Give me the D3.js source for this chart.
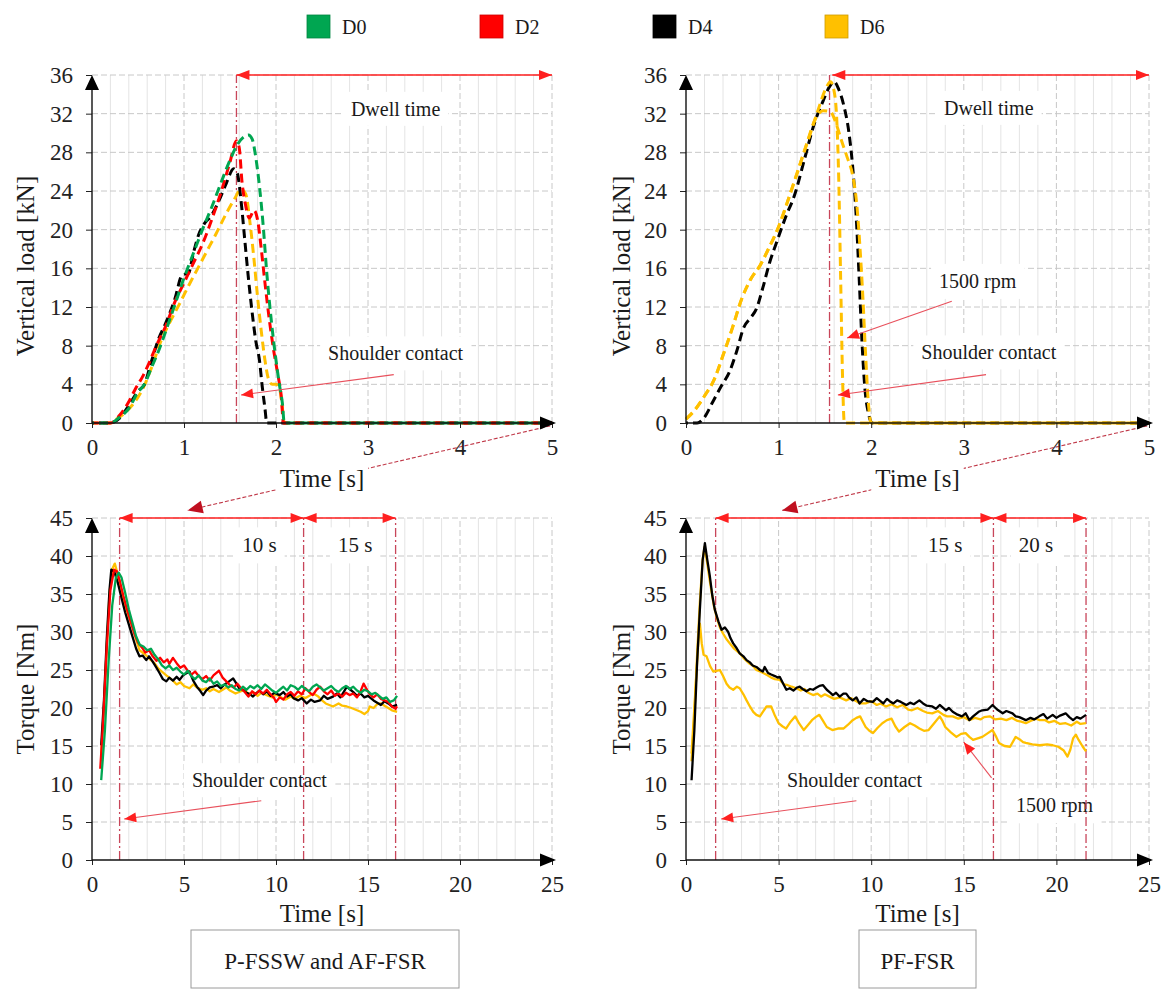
<!DOCTYPE html>
<html>
<head>
<meta charset="utf-8">
<script src="https://cdn.jsdelivr.net/npm/d3@7"></script>
<style>
body{margin:0;background:#fff;}
</style>
</head>
<body>
<script>
// vertical load vs time, [t, kN]
const loadD0=[[0,0],[0.2,0],[0.3,0.6],[0.4,1.5],[0.5,3.2],[0.57,4],[0.65,5.8],[0.73,7.6],[0.82,10],[0.9,12.2],[1.0,15],[1.1,17.5],[1.2,20],[1.3,22.3],[1.4,24.8],[1.5,27.2],[1.58,28.8],[1.65,29.6],[1.7,29.8],[1.74,29.4],[1.78,27.5],[1.82,24.5],[1.86,20.5],[1.9,15.5],[1.95,10.5],[2.0,6.5],[2.04,3.8],[2.07,2],[2.09,0],[5,0]];
const loadD2=[[0,0],[0.2,0],[0.3,0.8],[0.4,2.2],[0.47,3.5],[0.55,4.8],[0.62,6.2],[0.7,8],[0.8,10],[0.9,12.5],[1.0,14.5],[1.1,16.5],[1.2,18.5],[1.3,21],[1.4,23.8],[1.5,27],[1.57,29.2],[1.6,28.5],[1.63,25],[1.67,22.5],[1.71,21.2],[1.76,22],[1.8,21],[1.84,18],[1.88,14.5],[1.93,10.5],[1.98,7.2],[2.02,5],[2.06,2.5],[2.08,0],[5,0]];
const loadD4=[[0,0],[0.2,0],[0.3,0.5],[0.4,1.8],[0.5,3.3],[0.57,4],[0.65,6.5],[0.72,8.6],[0.8,10.3],[0.9,12.8],[0.98,15.3],[1.05,15.5],[1.1,17.5],[1.16,19.5],[1.22,20.6],[1.3,21.5],[1.38,23],[1.46,24.8],[1.54,26.3],[1.58,25.8],[1.62,23],[1.66,19],[1.7,15],[1.74,11.5],[1.78,8.5],[1.82,6.5],[1.85,3.8],[1.88,1.5],[1.9,0],[5,0]];
const loadD6=[[0,0],[0.2,0],[0.25,0.3],[0.35,1],[0.45,2],[0.55,3.5],[0.65,5.8],[0.75,8.5],[0.85,10.5],[0.95,12.3],[1.05,14.2],[1.15,16],[1.25,17.8],[1.35,19.6],[1.45,21.5],[1.55,23.2],[1.62,24.2],[1.67,23.7],[1.72,20.5],[1.76,17],[1.8,13],[1.84,9.5],[1.88,6.5],[1.92,4.5],[1.96,4],[2.0,4],[2.04,3.5],[2.07,1.5],[2.09,0],[5,0]];
const loadPfD4=[[0,0],[0.12,0],[0.2,0.6],[0.29,2.2],[0.38,3.8],[0.47,5.3],[0.55,7.5],[0.62,9.8],[0.7,10.9],[0.76,11.8],[0.83,14],[0.9,16.5],[0.99,19],[1.08,21.4],[1.17,23.5],[1.28,27.3],[1.38,30.8],[1.48,33.3],[1.55,34.8],[1.6,35.3],[1.65,34.5],[1.7,33],[1.76,30],[1.8,26.5],[1.84,21],[1.87,15],[1.9,8.5],[1.93,3.8],[1.97,1],[2.01,0],[5,0]];
const loadPfD6=[[0,0.4],[0.1,1.4],[0.2,2.8],[0.3,4.4],[0.4,7.0],[0.5,9.8],[0.6,12.8],[0.7,14.9],[0.8,16.3],[0.9,18.2],[1.0,20.3],[1.1,23],[1.2,25.8],[1.3,28.8],[1.4,31.5],[1.48,32.3],[1.56,32.2],[1.62,31],[1.68,29.2],[1.74,27.5],[1.8,25.6],[1.84,23],[1.88,18],[1.91,13],[1.94,7],[1.97,2],[2.0,0],[5,0]];
const loadPfD6rpm=[[0,0.4],[0.1,1.4],[0.2,2.8],[0.3,4.4],[0.4,7.0],[0.5,9.8],[0.6,12.8],[0.7,14.9],[0.8,16.3],[0.9,18.2],[1.0,20.3],[1.1,23],[1.2,25.9],[1.31,29],[1.42,32.2],[1.51,34.6],[1.56,35.3],[1.6,34.3],[1.63,31],[1.65,25],[1.67,15],[1.69,5],[1.71,0],[5,0]];

// torque vs time, [t, Nm]
const torqueD0=[[0.5,10.5],[0.7,17],[0.9,26],[1.1,33.5],[1.3,37.2],[1.45,37.8],[1.6,37.2],[1.8,35.2],[2.0,33.0],[2.2,31.2],[2.4,29.4],[2.6,28.3],[2.8,28.1],[3.0,27.6],[3.2,27.8],[3.4,27.0],[3.6,26.4],[3.8,25.6],[4.0,25.2],[4.2,25.6],[4.4,25.0],[4.6,25.3],[4.8,24.8],[5.0,24.4],[5.2,24.9],[5.4,24.2],[5.6,23.8],[5.8,24.3],[6.0,23.6],[6.2,23.4],[6.4,23.9],[6.6,23.2],[6.8,23.5],[7.0,22.9],[7.2,23.1],[7.4,22.7],[7.6,23.0],[7.8,22.5],[8.0,22.3],[8.2,22.8],[8.4,22.4],[8.6,22.9],[8.8,22.6],[9.0,23.0],[9.2,22.5],[9.4,23.1],[9.6,22.7],[9.8,22.3],[10.0,22.0],[10.2,22.4],[10.4,22.8],[10.6,22.3],[10.8,23.0],[11.0,22.8],[11.2,22.4],[11.4,22.9],[11.6,22.5],[11.8,22.2],[12.0,22.8],[12.2,23.1],[12.4,22.7],[12.6,22.3],[12.8,22.6],[13.0,22.9],[13.2,22.4],[13.4,22.1],[13.6,22.6],[13.8,22.9],[14.0,22.5],[14.2,22.8],[14.4,22.3],[14.6,22.0],[14.8,22.4],[15.0,22.2],[15.2,21.8],[15.4,22.0],[15.6,21.6],[15.8,21.2],[16.0,21.4],[16.2,20.8],[16.4,21.0],[16.58,21.6]];
const torqueD2=[[0.45,12],[0.6,18],[0.8,28],[1.0,35.5],[1.2,38.2],[1.35,38.0],[1.5,36.8],[1.7,34.8],[1.9,33.0],[2.1,31.4],[2.3,29.8],[2.5,28.6],[2.7,28.0],[2.9,27.3],[3.1,27.6],[3.3,26.8],[3.5,26.2],[3.7,26.6],[3.9,26.0],[4.1,26.4],[4.2,25.8],[4.4,26.6],[4.6,25.9],[4.8,25.3],[5.0,25.6],[5.2,24.9],[5.4,24.4],[5.6,24.8],[5.8,24.2],[6.0,23.8],[6.2,24.2],[6.4,23.6],[6.6,24.3],[6.9,24.9],[7.1,24.0],[7.3,23.5],[7.5,23.0],[7.7,22.7],[7.9,23.2],[8.1,22.6],[8.3,22.1],[8.5,21.5],[8.7,22.2],[8.9,21.8],[9.1,22.3],[9.3,21.9],[9.5,22.4],[9.7,21.8],[9.9,21.3],[10.0,20.8],[10.2,21.4],[10.4,21.1],[10.6,21.8],[10.8,22.1],[11.0,21.6],[11.2,22.2],[11.4,21.8],[11.6,22.6],[11.8,22.1],[12.0,21.7],[12.2,22.4],[12.4,22.8],[12.6,22.2],[12.8,21.8],[13.0,22.3],[13.2,21.6],[13.4,21.9],[13.6,21.5],[13.8,22.0],[14.0,21.7],[14.2,21.9],[14.4,21.4],[14.6,22.2],[14.76,23.2],[14.9,22.6],[15.1,21.8],[15.3,21.4],[15.5,21.8],[15.7,21.2],[15.9,21.0],[16.1,20.8],[16.3,20.2],[16.5,19.9],[16.58,20.2]];
const torqueD4=[[0.5,15.1],[0.65,21],[0.8,29],[0.95,35.5],[1.05,38.2],[1.2,38.0],[1.4,36.5],[1.6,34.5],[1.8,32.6],[2.0,31.0],[2.2,29.4],[2.4,27.8],[2.58,26.8],[2.75,26.9],[2.95,26.3],[3.1,26.8],[3.3,26.1],[3.5,25.3],[3.67,24.6],[3.85,23.8],[4.04,23.5],[4.2,24.0],[4.4,23.6],[4.6,24.1],[4.76,23.7],[4.95,24.3],[5.15,24.6],[5.3,24.8],[5.5,23.6],[5.7,22.8],[5.9,22.2],[6.04,21.7],[6.2,22.3],[6.4,22.7],[6.58,22.8],[6.8,23.0],[7.0,22.6],[7.2,23.1],[7.4,23.4],[7.67,23.9],[7.85,23.2],[8.0,22.6],[8.2,22.4],[8.4,22.0],[8.6,21.8],[8.75,21.5],[8.9,21.9],[9.1,22.3],[9.3,21.8],[9.5,22.2],[9.7,21.6],[9.9,22.0],[10.2,21.7],[10.4,22.1],[10.6,21.5],[10.8,21.8],[10.95,21.3],[11.2,21.0],[11.4,21.3],[11.67,20.6],[11.9,21.1],[12.1,20.8],[12.4,21.0],[12.6,21.6],[12.8,21.2],[13.1,21.5],[13.3,21.9],[13.5,21.4],[13.7,22.2],[13.85,22.8],[14.0,22.5],[14.2,22.1],[14.4,21.6],[14.6,21.9],[14.8,21.4],[15.0,21.6],[15.3,21.0],[15.5,20.7],[15.7,20.4],[15.9,20.9],[16.1,20.6],[16.3,20.2],[16.58,20.4]];
const torqueD6=[[0.5,14],[0.65,20],[0.8,28],[0.95,35],[1.1,38.3],[1.24,39.0],[1.4,37.6],[1.6,35.5],[1.8,33.6],[2.0,32.0],[2.2,30.6],[2.4,29.0],[2.58,27.6],[2.8,27.2],[3.0,26.8],[3.2,26.3],[3.4,25.9],[3.6,25.2],[3.8,24.8],[4.04,24.3],[4.2,24.0],[4.4,23.6],[4.6,23.1],[4.8,23.4],[5.0,22.9],[5.3,22.6],[5.5,23.1],[5.7,22.7],[6.0,22.4],[6.2,22.6],[6.4,22.2],[6.6,22.5],[6.9,22.1],[7.1,22.4],[7.3,22.7],[7.5,22.3],[7.8,21.9],[8.0,22.1],[8.3,22.4],[8.5,21.8],[8.76,22.1],[9.0,21.6],[9.2,22.0],[9.5,21.7],[9.8,21.4],[10.0,21.8],[10.2,21.5],[10.5,21.1],[10.8,21.5],[11.0,21.2],[11.3,21.6],[11.6,21.3],[12.03,21.9],[12.3,21.5],[12.5,21.0],[12.7,20.6],[12.9,20.4],[13.1,20.2],[13.4,20.6],[13.6,20.3],[13.85,20.2],[14.1,20.0],[14.3,19.8],[14.6,19.5],[14.8,19.2],[15.0,19.6],[15.1,20.2],[15.3,20.0],[15.5,20.5],[15.7,20.6],[15.9,20.3],[16.1,20.0],[16.3,19.7],[16.58,19.5]];
const torquePfD4=[[0.3,10.5],[0.45,17],[0.6,26],[0.75,33],[0.9,39.5],[1.02,41.7],[1.15,39.5],[1.29,37.3],[1.42,34.8],[1.56,32.9],[1.75,31.4],[1.92,30.3],[2.1,30.6],[2.28,30.0],[2.4,29.2],[2.55,28.5],[2.7,28.0],[2.9,27.2],[3.1,26.8],[3.27,26.3],[3.45,26.0],[3.6,25.6],[3.8,25.4],[4.0,25.0],[4.15,24.8],[4.25,25.4],[4.43,24.6],[4.6,24.4],[4.8,24.2],[4.95,24.0],[5.06,24.1],[5.25,23.2],[5.42,22.4],[5.6,22.6],[5.8,22.3],[6.0,22.7],[6.14,22.8],[6.3,22.5],[6.5,22.2],[6.7,22.5],[6.86,22.4],[7.05,22.7],[7.2,22.9],[7.4,23.0],[7.6,22.4],[7.8,22.0],[7.93,21.7],[8.1,22.0],[8.3,21.5],[8.5,21.9],[8.65,21.9],[8.8,21.4],[9.0,21.0],[9.2,21.4],[9.37,20.6],[9.6,21.2],[9.8,20.9],[10.09,20.8],[10.3,21.3],[10.45,21.0],[10.65,20.6],[10.85,21.2],[11.0,20.9],[11.2,20.6],[11.4,21.0],[11.6,20.8],[11.9,20.4],[12.1,20.7],[12.3,20.5],[12.6,21.0],[12.8,20.6],[13.0,20.3],[13.3,20.2],[13.5,19.9],[13.7,20.4],[14.04,19.7],[14.2,20.0],[14.4,19.5],[14.6,19.2],[14.9,18.9],[15.1,19.3],[15.3,18.4],[15.5,18.9],[15.8,19.5],[16.0,19.7],[16.3,19.8],[16.55,20.4],[16.8,19.8],[17.1,19.3],[17.3,19.6],[17.63,19.3],[17.8,18.9],[18.0,18.8],[18.35,18.4],[18.6,18.7],[18.8,18.5],[19.07,18.9],[19.3,19.2],[19.5,18.6],[19.8,19.1],[20.0,18.7],[20.2,19.0],[20.5,19.3],[20.7,18.8],[20.9,18.4],[21.1,18.8],[21.3,18.6],[21.6,19.1]];
const torquePfD6=[[0.3,13],[0.45,19],[0.6,27],[0.75,34],[0.9,39.5],[1.0,41.2],[1.15,39.0],[1.3,36.5],[1.5,33.5],[1.65,32.0],[1.83,30.6],[2.0,29.8],[2.2,29.0],[2.37,28.5],[2.6,27.8],[2.9,27.2],[3.1,26.6],[3.4,25.9],[3.6,25.6],[3.8,25.0],[4.0,24.8],[4.17,24.6],[4.4,24.3],[4.6,24.0],[4.8,23.8],[5.06,23.7],[5.3,23.1],[5.5,23.0],[5.7,22.8],[5.96,22.6],[6.2,22.3],[6.4,22.5],[6.6,22.0],[6.86,21.7],[7.1,21.9],[7.3,21.5],[7.5,21.8],[7.75,21.5],[8.0,21.2],[8.3,21.4],[8.65,21.0],[8.9,21.3],[9.2,20.9],[9.4,20.6],[9.7,20.6],[10.0,20.9],[10.3,20.4],[10.5,20.6],[10.8,20.2],[11.1,20.5],[11.4,20.1],[11.7,20.4],[12.0,19.8],[12.2,19.7],[12.5,20.0],[12.8,19.6],[13.0,19.4],[13.3,19.3],[13.6,19.6],[13.9,19.1],[14.1,18.9],[14.4,18.9],[14.7,18.6],[15.0,18.8],[15.3,18.4],[15.6,18.7],[15.9,18.5],[16.1,18.8],[16.4,18.9],[16.7,18.5],[17.0,18.6],[17.3,18.4],[17.6,18.7],[17.9,18.3],[18.1,18.2],[18.35,18.0],[18.6,18.3],[18.9,18.6],[19.1,18.4],[19.4,18.4],[19.6,18.1],[19.9,18.3],[20.2,17.9],[20.5,18.0],[20.8,17.7],[21.1,18.2],[21.3,17.9],[21.6,18.0]];
const torquePfD6rpm=[[0.3,14],[0.5,22],[0.65,28],[0.75,31.1],[0.85,28.5],[0.95,27.0],[1.11,26.8],[1.3,25.5],[1.47,24.8],[1.65,24.9],[1.83,25.0],[2.0,24.2],[2.19,23.2],[2.35,22.7],[2.55,22.4],[2.75,22.8],[2.9,22.6],[3.1,21.8],[3.27,21.0],[3.45,20.2],[3.63,19.5],[3.8,19.1],[3.99,18.9],[4.15,19.5],[4.35,20.2],[4.6,20.2],[4.8,19.0],[5.0,18.0],[5.2,17.6],[5.4,17.3],[5.65,18.2],[5.9,18.9],[6.1,18.0],[6.36,17.1],[6.6,17.8],[6.8,18.4],[7.0,18.8],[7.2,19.1],[7.4,18.3],[7.6,17.5],[7.9,17.1],[8.2,17.3],[8.5,17.3],[8.75,17.8],[9.0,18.4],[9.2,18.7],[9.4,18.9],[9.55,18.2],[9.7,17.5],[9.9,17.0],[10.1,16.7],[10.35,17.4],[10.6,18.0],[10.85,18.4],[11.1,18.6],[11.3,17.6],[11.5,16.9],[11.8,17.5],[12.1,18.0],[12.35,17.7],[12.6,17.3],[12.85,17.0],[13.1,17.1],[13.4,18.0],[13.7,18.9],[13.85,18.3],[14.0,17.5],[14.3,16.8],[14.6,16.2],[14.85,16.6],[15.1,16.7],[15.3,16.2],[15.5,15.8],[15.75,16.0],[16.0,16.2],[16.3,16.7],[16.55,17.1],[16.75,16.2],[16.9,15.4],[17.2,15.0],[17.5,14.9],[17.8,16.2],[18.0,15.9],[18.2,15.5],[18.35,15.4],[18.7,15.2],[19.1,15.1],[19.5,15.2],[19.8,15.1],[20.1,14.9],[20.4,14.4],[20.6,13.6],[20.75,14.5],[20.9,16.0],[21.05,16.5],[21.2,15.8],[21.4,15.0],[21.6,14.3]];

const legendNames=['D0','D2','D4','D6'];
const legendColors=['#00a651','#ff0000','#000000','#ffc000'];

const FONT="'Liberation Serif','Times New Roman',serif";
const W=1168,H=990;
const svg=d3.select('body').append('svg').attr('width',W).attr('height',H);

function head(g,x1,y1,x2,y2,len,hw,color){
    let a=Math.atan2(y2-y1,x2-x1);
    let bx=x2-len*Math.cos(a),by=y2-len*Math.sin(a);
    let px=-Math.sin(a)*hw,py=Math.cos(a)*hw;
    g.append('path').attr('d',`M${x2},${y2}L${bx+px},${by+py}L${bx-px},${by-py}Z`).attr('fill',color);
}

function label(g,x,y,txt,size,pad){
    let r=pad?g.append('rect').attr('fill','#fff'):null;
    let t=g.append('text').attr('x',x).attr('y',y).attr('text-anchor','middle')
        .attr('dominant-baseline','central').attr('font-family',FONT)
        .attr('font-size',size).attr('fill','#1a1a1a').text(txt);
    if(r) {
        let b=t.node().getBBox();
        r.attr('x',b.x-pad[0]).attr('y',b.y-pad[1]).attr('width',b.width+2*pad[0]).attr('height',b.height+2*pad[1]);
    }
    return t;
}

function drawPanel(p) {
    let x=d3.scaleLinear().domain([0,p.xMax]).range([p.left,p.right]);
    let y=d3.scaleLinear().domain([0,p.yMax]).range([p.bottom,p.top]);
    let g=svg.append('g');

    // minor verticals
    let minors=d3.range(0,Math.round(p.xMax/p.minor)+1).map(i=>+(i*p.minor).toFixed(3))
        .filter(v=>Math.abs(v/p.xStep-Math.round(v/p.xStep))>1e-6);
    g.selectAll(null).data(minors).enter().append('line')
        .attr('x1',d=>x(d)).attr('x2',d=>x(d)).attr('y1',y(0)).attr('y2',y(p.yMax))
        .attr('stroke','#e4e4e4').attr('stroke-width',1);
    let xTicks=d3.range(0,p.xMax+p.xStep/2,p.xStep);
    let yTicks=d3.range(0,p.yMax+p.yStep/2,p.yStep);
    g.selectAll(null).data(xTicks.slice(1)).enter().append('line')
        .attr('x1',d=>x(d)).attr('x2',d=>x(d)).attr('y1',y(0)).attr('y2',y(p.yMax))
        .attr('stroke','#c8c8c8').attr('stroke-dasharray','6,3').attr('stroke-width',1);
    g.selectAll(null).data(yTicks.slice(1)).enter().append('line')
        .attr('x1',x(0)).attr('x2',x(p.xMax)).attr('y1',d=>y(d)).attr('y2',d=>y(d))
        .attr('stroke','#c8c8c8').attr('stroke-dasharray','6,3').attr('stroke-width',1);

    // text annotations with white boxes
    p.notes.forEach(n=>label(g,x(n[0]),y(n[1]),n[2],n[3],[8,6]));

    // dash-dot markers
    p.marks.forEach(m=>{
        g.append('line').attr('x1',x(m)).attr('x2',x(m)).attr('y1',y(0)).attr('y2',y(p.yMax))
            .attr('stroke','#c8465a').attr('stroke-width',1.3).attr('stroke-dasharray','9,3,2,3');
    });

    // series
    let line=d3.line().x(d=>x(d[0])).y(d=>y(d[1]));
    if(p.dashed) line.curve(d3.curveMonotoneX);
    p.series.forEach(s=>{
        g.append('path').datum(s.data).attr('d',line).attr('fill','none')
            .attr('stroke',s.color).attr('stroke-width',p.dashed?3:2.3)
            .attr('stroke-linejoin','round')
            .attr('stroke-dasharray',p.dashed?'9,5':null)
            .attr('stroke-dashoffset',p.dashed?s.offset:null);
    });

    // span arrows
    p.spans.forEach(s=>{
        let x1=x(s[0]),x2=x(s[1]),yy=y(p.yMax);
        g.append('line').attr('x1',x1).attr('x2',x2).attr('y1',yy).attr('y2',yy)
            .attr('stroke','#ff2020').attr('stroke-width',1.6);
        head(g,x2,yy,x1,yy,13,5,'#ff2020');
        head(g,x1,yy,x2,yy,13,5,'#ff2020');
    });

    // axes
    let ax=g.append('g').attr('transform',`translate(0,${p.bottom})`)
        .call(d3.axisBottom(x).tickValues(xTicks).tickFormat(d3.format('d')).tickSize(5).tickPadding(11));
    let ay=g.append('g').attr('transform',`translate(${p.left},0)`)
        .call(d3.axisLeft(y).tickValues(yTicks).tickFormat(d3.format('d')).tickSize(6).tickPadding(13));
    [ax,ay].forEach(a=>{
        a.select('.domain').remove();
        a.selectAll('line').attr('stroke','#222');
        a.selectAll('text').attr('font-family',FONT).attr('font-size',23).attr('fill','#222');
    });
    g.append('line').attr('x1',p.left).attr('x2',p.right).attr('y1',p.bottom).attr('y2',p.bottom)
        .attr('stroke','#111').attr('stroke-width',1.4);
    g.append('line').attr('x1',p.left).attr('x2',p.left).attr('y1',p.bottom).attr('y2',p.top+4)
        .attr('stroke','#111').attr('stroke-width',1.4);
    head(g,p.left,p.top+20,p.left,p.top,15,7,'#000');
    head(g,p.right-20,p.bottom,p.right+4,p.bottom,16,6.5,'#000');

    // pointer arrows
    p.pointers.forEach(a=>{
        let x1=x(a[0]),y1=y(a[1]),x2=x(a[2]),y2=y(a[3]);
        g.append('line').attr('x1',x1).attr('y1',y1).attr('x2',x2).attr('y2',y2)
            .attr('stroke','#e8505c').attr('stroke-width',1.1);
        head(g,x1,y1,x2,y2,12,5,'#ff2020');
    });

    // axis titles
    label(g,(p.left+p.right)/2,p.xTitleY,'Time [s]',25,[4,1]);
    g.append('text').attr('transform',`translate(${p.yTitleX},${p.yTitleY}) rotate(-90)`)
        .attr('text-anchor','middle').attr('dominant-baseline','central')
        .attr('font-family',FONT).attr('font-size',25).attr('fill','#1a1a1a').text(p.yTitle);
}

const panels=[
    {left:92,right:552,top:75,bottom:423,xMax:5,yMax:36,xStep:1,yStep:4,minor:0.2,dashed:true,
     series:[{data:loadD6,color:legendColors[3],offset:3},{data:loadD4,color:legendColors[2],offset:7},{data:loadD2,color:legendColors[1],offset:0},{data:loadD0,color:legendColors[0],offset:7}],
     marks:[1.57],spans:[[1.57,5]],
     notes:[[3.3,32.5,'Dwell time',20],[3.3,7.2,'Shoulder contact',20]],
     pointers:[[3.28,5.0,1.62,2.9]],
     yTitle:'Vertical load [kN]',yTitleX:25,yTitleY:266,xTitleY:478},
    {left:686,right:1149,top:75,bottom:423,xMax:5,yMax:36,xStep:1,yStep:4,minor:0.2,dashed:true,
     series:[{data:loadPfD4,color:legendColors[2],offset:7},{data:loadPfD6,color:legendColors[3],offset:0},{data:loadPfD6rpm,color:legendColors[3],offset:0}],
     marks:[1.55],spans:[[1.58,5]],
     notes:[[3.27,32.6,'Dwell time',20],[3.15,14.7,'1500 rpm',20],[3.27,7.3,'Shoulder contact',20]],
     pointers:[[2.87,12.6,1.74,8.8],[3.24,5.0,1.64,2.9]],
     yTitle:'Vertical load [kN]',yTitleX:621,yTitleY:266,xTitleY:478},
    {left:92,right:552,top:518,bottom:860,xMax:25,yMax:45,xStep:5,yStep:5,minor:1,dashed:false,
     series:[{data:torqueD6,color:legendColors[3]},{data:torqueD4,color:legendColors[2]},{data:torqueD2,color:legendColors[1]},{data:torqueD0,color:legendColors[0]}],
     marks:[1.5,11.5,16.5],spans:[[1.5,11.5],[11.5,16.5]],
     notes:[[9.1,41.4,'10 s',21],[14.3,41.4,'15 s',21],[9.1,10.5,'Shoulder contact',20]],
     pointers:[[9.2,7.8,1.75,5.4]],
     yTitle:'Torque [Nm]',yTitleX:25,yTitleY:689,xTitleY:913},
    {left:686,right:1149,top:518,bottom:860,xMax:25,yMax:45,xStep:5,yStep:5,minor:1,dashed:false,
     series:[{data:torquePfD6rpm,color:legendColors[3]},{data:torquePfD6,color:legendColors[3]},{data:torquePfD4,color:legendColors[2]}],
     marks:[1.6,16.6,21.6],spans:[[1.6,16.6],[16.6,21.6]],
     notes:[[14.0,41.4,'15 s',21],[18.9,41.4,'20 s',21],[9.1,10.5,'Shoulder contact',20],[19.9,7.2,'1500 rpm',20]],
     pointers:[[9.2,7.8,1.9,5.4],[16.5,10.8,15.0,15.5]],
     yTitle:'Torque [Nm]',yTitleX:621,yTitleY:689,xTitleY:913}
];

// cross-panel dashed pointers go under the "Time [s]" labels
let crossG=svg.append('g');
let sc=panels.map(p=>({
    x:d3.scaleLinear().domain([0,p.xMax]).range([p.left,p.right]),
    y:d3.scaleLinear().domain([0,p.yMax]).range([p.bottom,p.top])
}));
[[0,2],[1,3]].forEach(pair=>{
    let a=sc[pair[0]],b=sc[pair[1]];
    let x1=a.x(4.98),y1=a.y(-0.3),x2=b.x(5.2),y2=b.y(46);
    crossG.append('line').attr('x1',x1).attr('y1',y1).attr('x2',x2).attr('y2',y2)
        .attr('stroke','#c03848').attr('stroke-width',1.1).attr('stroke-dasharray','4,2');
    head(crossG,x1,y1,x2,y2,15,6.5,'#c01020');
});

panels.forEach(drawPanel);
crossG.raise();
svg.selectAll('text').filter(function(){return this.textContent==='Time [s]';}).each(function(){
    let t=this;
    let r=t.previousSibling;
    if(r && r.tagName==='rect'){ d3.select(t.parentNode).append(()=>r); }
    d3.select(t.parentNode).append(()=>t);
    d3.select(t.parentNode).raise();
});

// legend
let lg=svg.append('g');
let legendX=[307,480,653,825];
legendNames.forEach((n,i)=>{
    lg.append('rect').attr('x',legendX[i]).attr('y',15).attr('width',23).attr('height',23)
        .attr('fill',legendColors[i]).attr('stroke',d3.color(legendColors[i]).darker(0.6)).attr('stroke-width',0.8);
    lg.append('text').attr('x',legendX[i]+35).attr('y',27).attr('dominant-baseline','central')
        .attr('font-family',FONT).attr('font-size',20).attr('fill','#1a1a1a').text(n);
});

// method boxes
let boxes=[['P-FSSW and AF-FSR',191,459],['PF-FSR',859,976]];
boxes.forEach(b=>{
    svg.append('rect').attr('x',b[1]).attr('y',930).attr('width',b[2]-b[1]).attr('height',58)
        .attr('fill','#fff').attr('stroke','#9a9a9a').attr('stroke-width',1);
    svg.append('text').attr('x',(b[1]+b[2])/2).attr('y',961).attr('text-anchor','middle')
        .attr('dominant-baseline','central').attr('font-family',FONT).attr('font-size',23)
        .attr('fill','#1a1a1a').text(b[0]);
});
</script>
</body>
</html>
